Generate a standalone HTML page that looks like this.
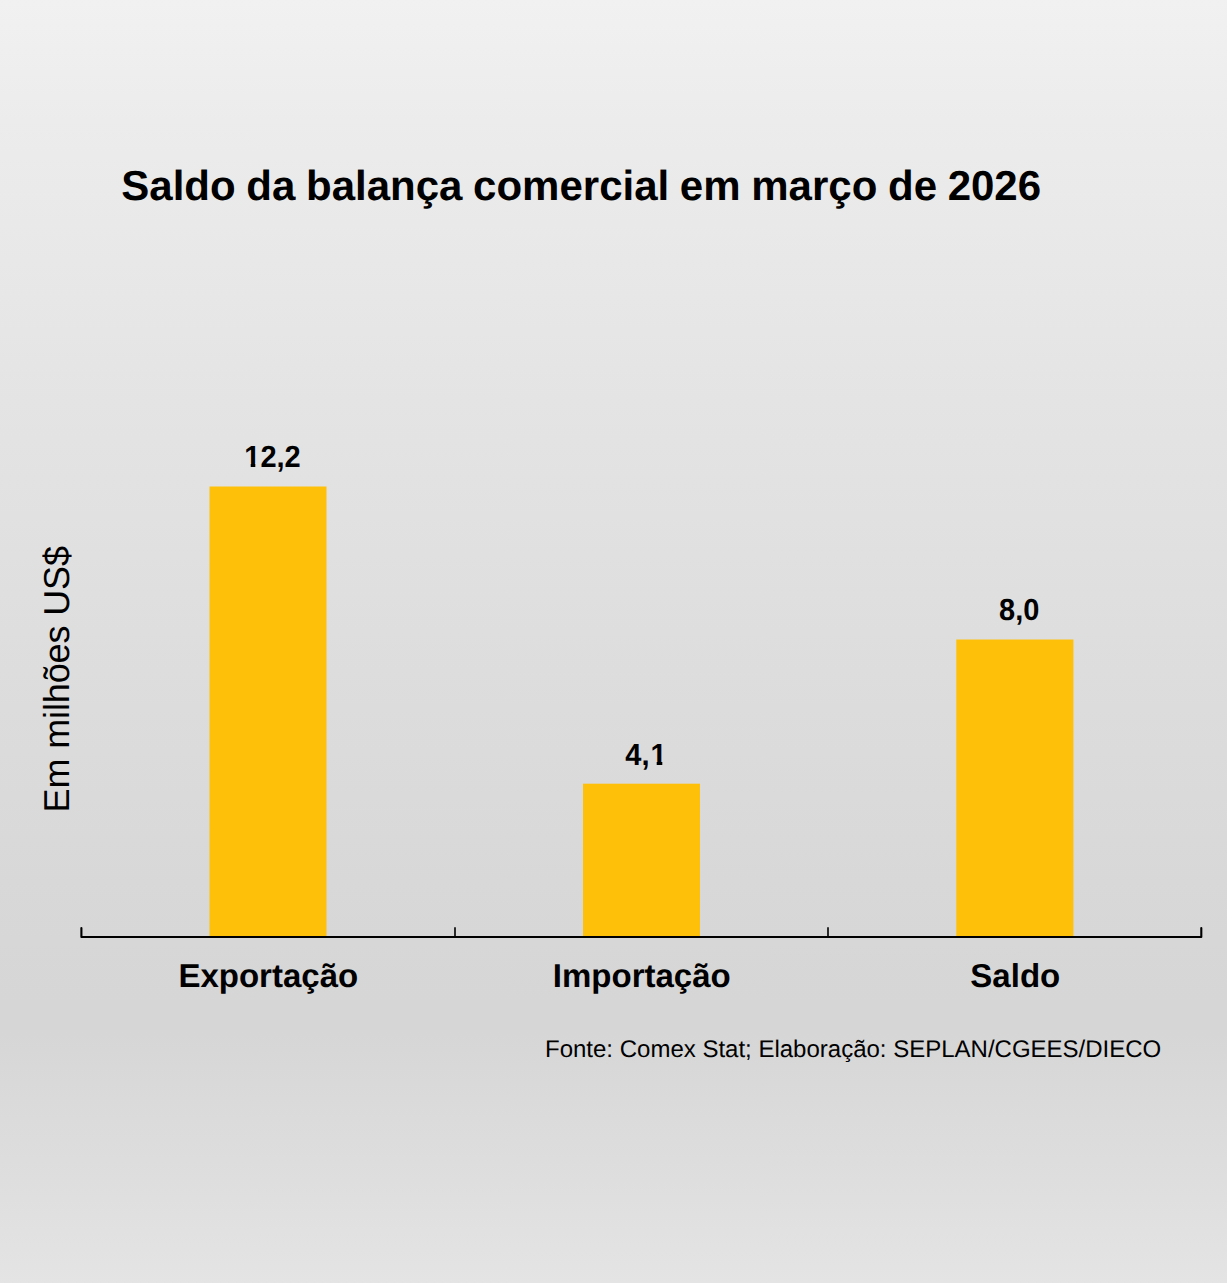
<!DOCTYPE html>
<html lang="pt-BR">
<head>
<meta charset="utf-8">
<title>Saldo da balança comercial em março de 2026</title>
<style>
  html, body { margin: 0; padding: 0; }
  body { width: 1227px; height: 1283px; overflow: hidden; background: #dfdfdf; }
  svg { display: block; }
  text { text-rendering: geometricPrecision; font-family: "Liberation Sans", Arial, Helvetica, sans-serif; fill: #000; }
  .b { font-weight: bold; }
</style>
</head>
<body>
<svg width="1227" height="1283" viewBox="0 0 1227 1283">
  <defs>
    <linearGradient id="bg" gradientUnits="userSpaceOnUse" x1="0" y1="0" x2="0" y2="1283">
      <stop offset="0" stop-color="#f1f1f1"/>
      <stop offset="0.094" stop-color="#ececec"/>
      <stop offset="0.203" stop-color="#e8e8e8"/>
      <stop offset="0.312" stop-color="#e4e4e4"/>
      <stop offset="0.553" stop-color="#dcdcdc"/>
      <stop offset="0.686" stop-color="#d8d8d8"/>
      <stop offset="0.780" stop-color="#d6d6d6"/>
      <stop offset="0.805" stop-color="#d6d6d6"/>
      <stop offset="0.857" stop-color="#dadada"/>
      <stop offset="0.920" stop-color="#dedede"/>
      <stop offset="1" stop-color="#e4e4e4"/>
    </linearGradient>
  </defs>
  <rect x="0" y="0" width="1227" height="1283" fill="url(#bg)"/>

  <!-- title -->
  <text class="b" x="121.3" y="200.2" font-size="42" word-spacing="-1">Saldo da balança comercial em março de 2026</text>

  <!-- y axis label -->
  <text transform="translate(69 679.3) rotate(-90)" text-anchor="middle" font-size="36" letter-spacing="-0.13">Em milhões US$</text>

  <!-- bars -->
  <rect x="209.5" y="486.5" width="117" height="450.2" fill="#fec008"/>
  <rect x="583" y="783.7" width="117" height="153" fill="#fec008"/>
  <rect x="956.3" y="639.5" width="117.1" height="297.2" fill="#fec008"/>

  <!-- value labels -->
  <text class="b" transform="translate(272.5 466.6) scale(1 1.05)" text-anchor="middle" font-size="29">12,2</text>
  <path d="M245 463.4H250.7V468H245Z M255.3 463.4H260.4V468H255.3Z" fill="url(#bg)"/>
  <text class="b" transform="translate(646 765.2) scale(1 1.05)" text-anchor="middle" font-size="29" dx="0 0 1">4,1</text>
  <path d="M651 761.4H656.7V766H651Z M662.3 761.4H667V766H662.3Z" fill="url(#bg)"/>
  <text class="b" transform="translate(1019.2 620) scale(1 1.05)" text-anchor="middle" font-size="29">8,0</text>

  <!-- axis -->
  <path d="M81.4 928 V937 H1201.3 V928" fill="none" stroke="#000" stroke-width="2.1" stroke-linejoin="round" stroke-linecap="round"/>
  <path d="M455 927.3 V936.5 M828 927.3 V936.5" fill="none" stroke="#000" stroke-width="1.6"/>

  <!-- category labels -->
  <text class="b" x="268.3" y="986.5" text-anchor="middle" font-size="33">Exportação</text>
  <text class="b" x="641.8" y="986.5" text-anchor="middle" font-size="33">Importação</text>
  <text class="b" x="1015.3" y="986.5" text-anchor="middle" font-size="33">Saldo</text>

  <!-- source -->
  <text x="545" y="1057" font-size="24">Fonte: Comex Stat; Elaboração: SEPLAN/CGEES/DIECO</text>
</svg>
</body>
</html>
